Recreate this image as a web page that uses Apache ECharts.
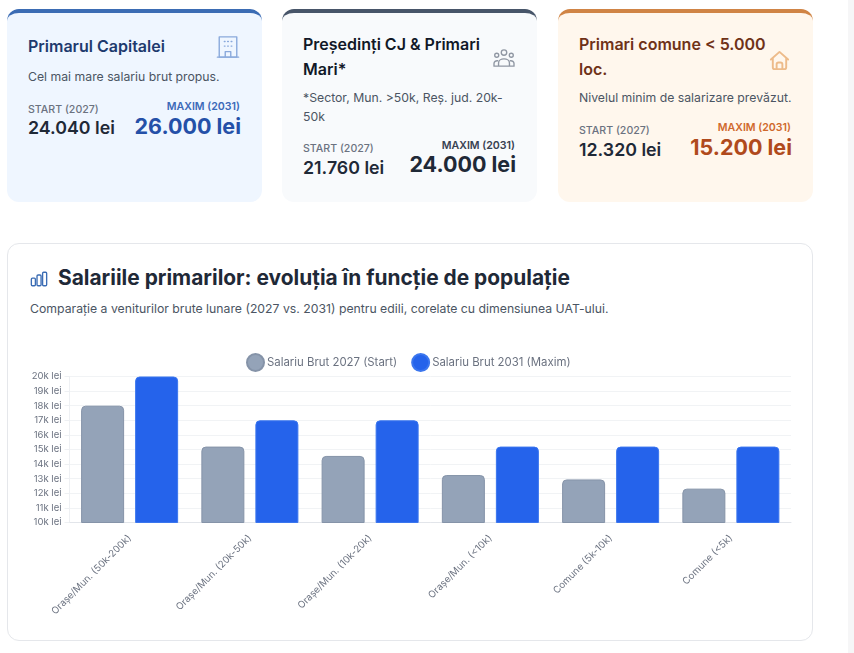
<!DOCTYPE html>
<html lang="ro"><head><meta charset="utf-8">
<script src="https://cdn.jsdelivr.net/npm/echarts@6/dist/echarts.min.js"></script>
<style>
html,body{margin:0;padding:0;width:854px;height:653px;overflow:hidden;background:#fff;font-family:Inter,"Noto Sans",sans-serif;}
.sb{position:absolute;left:848px;top:0;width:6px;height:653px;background:#f6f6f7;}
.card{position:absolute;top:9px;width:255px;height:193px;box-sizing:border-box;border-top:4px solid;border-radius:12px;}
.card>*{position:absolute;white-space:nowrap;}
.t{font-weight:600;font-size:16px;line-height:25px;left:21px;top:19px;}
.d{font-size:12.25px;line-height:19px;color:#4b5563;left:21px;}
.sl{font-size:10.6px;font-weight:500;color:#6b7280;left:21px;line-height:14px;}
.sv{font-size:17.8px;font-weight:600;color:#1f2937;left:21px;line-height:22px;}
.ml{font-size:10.6px;font-weight:600;right:22px;line-height:14px;}
.mv{font-size:21.5px;font-weight:700;right:21px;line-height:28px;}
svg.i{fill:none;stroke-width:1.5;stroke-linecap:round;stroke-linejoin:round;}
#panel{position:absolute;left:7px;top:243px;width:806px;height:398px;box-sizing:border-box;border:1px solid #e5e7eb;border-radius:12px;}
#h{position:absolute;left:58px;top:264px;font-size:20.9px;font-weight:700;line-height:27px;color:#1f2937;white-space:nowrap;}
#s{position:absolute;left:30px;top:300px;font-size:12.25px;line-height:17px;color:#4b5563;white-space:nowrap;}
#c{position:absolute;left:8px;top:345px;width:804px;height:295px;}
</style></head><body>
<div class="sb"></div>

<div class="card" style="left:7px;background:#eff6ff;border-color:#3b6cb4;">
  <div class="t" style="color:#1e3a6e;top:21px;">Primarul Capitalei</div>
  <div class="d" style="top:54px;">Cel mai mare salariu brut propus.</div>
  <div class="sl" style="top:90px;">START (2027)</div>
  <div class="sv" style="top:104px;">24.040 lei</div>
  <div class="ml" style="top:87px;color:#3b69b8;">MAXIM (2031)</div>
  <div class="mv" style="top:99px;color:#2450a8;">26.000 lei</div>
  <svg class="i" style="left:209px;top:22px;" width="24" height="24" viewBox="0 0 26 26" stroke="#8aa9dc"><rect x="3.5" y="2" width="19" height="22"/><path d="M1.5 24h23M10 24v-6h6v6M9 7h.8M12.6 7h.8M16.4 7h.8M9 12h.8M12.6 12h.8M16.4 12h.8"/></svg>
</div>

<div class="card" style="left:282px;background:#f8fafc;border-color:#475569;">
  <div class="t" style="color:#111827;white-space:normal;width:190px;">Președinți CJ &amp; Primari Mari*</div>
  <div class="d" style="top:75px;white-space:normal;width:215px;">*Sector, Mun. &gt;50k, Reș. jud. 20k-50k</div>
  <div class="sl" style="top:129px;">START (2027)</div>
  <div class="sv" style="top:144px;">21.760 lei</div>
  <div class="ml" style="top:126px;color:#374151;">MAXIM (2031)</div>
  <div class="mv" style="top:137px;color:#1f2937;">24.000 lei</div>
  <svg class="i" style="left:210px;top:35px;" width="24" height="20" viewBox="0 0 26 22" stroke="#9097a3"><circle cx="13" cy="5" r="3"/><circle cx="5" cy="8" r="2.2"/><circle cx="21" cy="8" r="2.2"/><path d="M7 20v-3.5a6 4.5 0 0 1 12 0V20zM2 20v-3a3.5 3 0 0 1 4-3M24 20v-3a3.5 3 0 0 0-4-3M2 20h22"/></svg>
</div>

<div class="card" style="left:558px;background:#fff7ed;border-color:#d08445;">
  <div class="t" style="color:#6f3218;white-space:normal;width:195px;">Primari comune &lt; 5.000 loc.</div>
  <div class="d" style="top:75px;">Nivelul minim de salarizare prevăzut.</div>
  <div class="sl" style="top:111px;">START (2027)</div>
  <div class="sv" style="top:126px;">12.320 lei</div>
  <div class="ml" style="top:108px;color:#d0692c;">MAXIM (2031)</div>
  <div class="mv" style="top:120px;color:#b04a1c;">15.200 lei</div>
  <svg class="i" style="left:210px;top:36px;stroke-width:2" width="23" height="23" viewBox="0 0 24 24" stroke="#edbb8a"><path d="M3 11 12 3l9 8M5 9.5V19a2 2 0 0 0 2 2h10a2 2 0 0 0 2-2V9.5"/><path d="M9 21v-5a2 2 0 0 1 2-2h2a2 2 0 0 1 2 2v5"/></svg>
</div>

<div id="panel"></div>
<svg class="i" style="position:absolute;left:30px;top:270px;" width="18" height="18" viewBox="0 0 20 18" stroke="#3b6cb4"><rect x="1.5" y="8" width="4.5" height="8.5" rx="1.2"/><rect x="7.8" y="4.5" width="4.5" height="12" rx="1.2"/><rect x="14" y="1.5" width="4.5" height="15" rx="1.2"/></svg>
<div id="h">Salariile primarilor: evoluția în funcție de populație</div>
<div id="s">Comparație a veniturilor brute lunare (2027 vs. 2031) pentru edili, corelate cu dimensiunea UAT-ului.</div>
<div id="c"></div>

<script>
const categories = ["Orașe/Mun. (50k-200k)","Orașe/Mun. (20k-50k)","Orașe/Mun. (10k-20k)","Orașe/Mun. (<10k)","Comune (5k-10k)","Comune (<5k)"];
const start2027 = [18000,15200,14560,13250,12950,12320];
const max2031 = [20000,17000,17000,15200,15200,15200];
const seriesNames = ["Salariu Brut 2027 (Start)","Salariu Brut 2031 (Maxim)"];

const chart = echarts.init(document.getElementById('c'), null, {renderer:'canvas'});
const bar = (name,data,color,border) => ({
  name, type:'bar', data, barWidth:43, barGap:'25.6%',
  itemStyle:{color, borderColor:border, borderWidth:1, borderRadius:[4,4,0,0]}
});
chart.setOption({
  animation:false,
  textStyle:{fontFamily:'Inter'},
  legend:{
    top:3,left:233,itemWidth:17,itemHeight:17,itemGap:14,icon:'circle',
    textStyle:{fontFamily:'Inter',fontSize:11.4,color:'#6b7280',padding:[0,0,0,-2]},
    data:seriesNames
  },
  grid:{left:61.5,right:21,top:31.5,height:146},
  xAxis:{
    type:'category',data:categories,
    axisLine:{lineStyle:{color:'#e2e5ea'}},
    axisTick:{show:false},
    axisLabel:{rotate:45,interval:0,margin:14,fontSize:9.7,color:'#6b7280',fontFamily:'Inter'},
    splitLine:{show:false}
  },
  yAxis:{
    type:'value',min:10000,max:20000,interval:1000,
    axisLine:{show:true,lineStyle:{color:'#eef0f3'}},
    axisTick:{show:true,length:5,lineStyle:{color:'#eef0f3'}},
    axisLabel:{margin:8,fontSize:9.5,color:'#6b7280',fontFamily:'Inter',formatter:v=>(v/1000)+'k lei'},
    splitLine:{lineStyle:{color:'#f1f3f5'}}
  },
  series:[bar(seriesNames[0],start2027,'#94a3b8','#8593a8'),bar(seriesNames[1],max2031,'#2563eb','#3b76ee')]
});
</script>
</body></html>
